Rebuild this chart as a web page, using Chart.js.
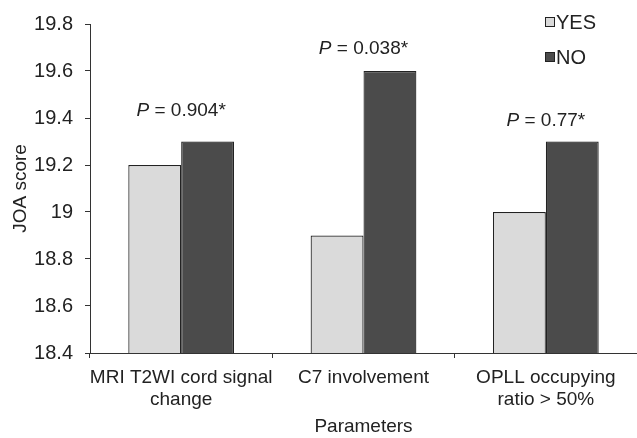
<!DOCTYPE html>
<html lang="en">
<head>
<meta charset="UTF-8">
<title>JOA score</title>
<script src="https://cdn.jsdelivr.net/npm/chart.js@4"></script>
<style>
  html, body { margin: 0; padding: 0; background: #fff; }
  #wrap { width: 637px; height: 438px; }
</style>
</head>
<body>
<div id="wrap"><canvas id="chart" width="637" height="438"></canvas></div>
<script>
  // data
  const categories = [
    ['MRI T2WI cord signal', 'change'],
    'C7 involvement',
    ['OPLL occupying', 'ratio > 50%']
  ];
  const yesValues = [19.2, 18.9, 19.0];
  const noValues = [19.3, 19.6, 19.3];
  const pLabels = ['0.904*', '0.038*', '0.77*'];
  const pLabelY = [19.43, 19.695, 19.39];   // height of the p text, in score units
  const yTicks = [18.4, 18.6, 18.8, 19, 19.2, 19.4, 19.6, 19.8];

  const FONT = 'Liberation Sans, Arial, sans-serif';
  const INK = '#222';

  // p values above each group
  const pText = {
    id: 'pText',
    afterDatasetsDraw(chart) {
      const c = chart.ctx;
      const xs = chart.scales.x, ys = chart.scales.y;
      c.save();
      c.fillStyle = INK;
      c.textBaseline = 'middle';
      pLabels.forEach((t, i) => {
        const a = 'P', b = ' = ' + t;
        c.font = 'italic 19px ' + FONT;
        const wa = c.measureText(a).width;
        c.font = '19px ' + FONT;
        const wb = c.measureText(b).width;
        let x = xs.getPixelForValue(i) - (wa + wb) / 2;
        const y = ys.getPixelForValue(pLabelY[i]);
        c.textAlign = 'left';
        c.font = 'italic 19px ' + FONT;
        c.fillText(a, x, y);
        c.font = '19px ' + FONT;
        c.fillText(b, x + wa, y);
      });
      c.restore();
    }
  };

  // small legend in the top right corner
  const boxLegend = {
    id: 'boxLegend',
    afterDraw(chart) {
      const c = chart.ctx;
      const area = chart.chartArea;
      c.save();
      c.font = '20px ' + FONT;
      c.textBaseline = 'middle';
      c.textAlign = 'left';
      chart.data.datasets.forEach((ds, i) => {
        const x = area.right - 92;
        const y = area.top - 2 + i * 35;
        c.fillStyle = ds.backgroundColor;
        c.fillRect(x, y - 5, 10, 10);
        c.strokeStyle = '#222';
        c.lineWidth = 1;
        c.strokeRect(x + 0.5, y - 4.5, 9, 9);
        c.fillStyle = INK;
        c.fillText(ds.label, x + 11, y + 1);
      });
      c.restore();
    }
  };

  Chart.defaults.font.family = FONT;
  Chart.defaults.color = INK;

  new Chart(document.getElementById('chart'), {
    type: 'bar',
    data: {
      labels: categories,
      datasets: [
        { label: 'YES', data: yesValues, backgroundColor: '#dadada', borderColor: '#222', borderWidth: 1.2 },
        { label: 'NO', data: noValues, backgroundColor: '#4b4b4b', borderColor: '#222', borderWidth: 1.2 }
      ]
    },
    options: {
      responsive: false,
      animation: false,
      layout: { padding: { top: 20, right: 0, left: 0, bottom: 0 } },
      plugins: { legend: { display: false }, tooltip: { enabled: false } },
      datasets: { bar: { categoryPercentage: 0.58, barPercentage: 1 } },
      scales: {
        x: {
          grid: { display: true, drawOnChartArea: false, color: '#333', tickLength: 5, offset: true },
          border: { color: '#333', width: 1 },
          ticks: { font: { size: 19 }, padding: 8, maxRotation: 0, autoSkip: false },
          title: { display: true, text: 'Parameters', font: { size: 19 }, padding: { top: 0, bottom: 0 } },
          afterFit(s) { s.height = 85; }
        },
        y: {
          min: 18.4,
          max: 19.8,
          afterBuildTicks(s) { s.ticks = yTicks.map(v => ({ value: v })); },
          grid: { display: true, drawOnChartArea: false, color: '#333', tickLength: 5 },
          border: { color: '#333', width: 1 },
          ticks: { font: { size: 20 }, padding: 12, callback: v => String(Math.round(v * 10) / 10) },
          title: { display: true, text: 'JOA score', font: { size: 19 }, padding: { top: 9 } },
          afterFit(s) { s.width = 90; }
        }
      }
    },
    plugins: [pText, boxLegend]
  });
</script>
</body>
</html>
